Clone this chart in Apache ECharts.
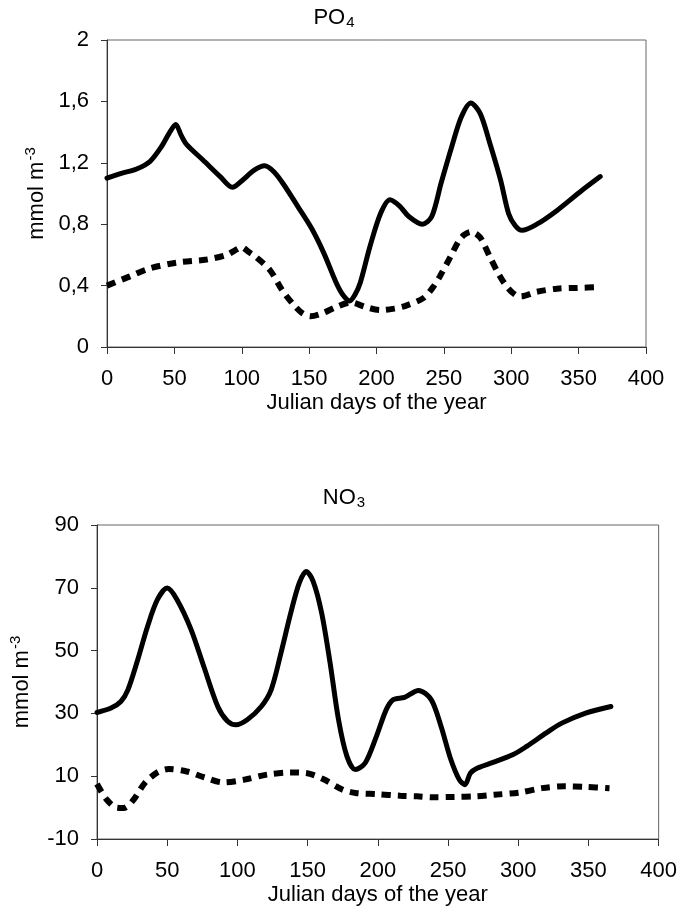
<!DOCTYPE html>
<html>
<head>
<meta charset="utf-8">
<script src="https://cdn.jsdelivr.net/npm/echarts@6/dist/echarts.min.js"></script>
<style>
html,body{margin:0;padding:0;background:#fff;}
#c{width:680px;height:914px;}
</style>
</head>
<body>
<div id="c"></div>
<script>
// ---- Data ----
const xTicks = [0, 50, 100, 150, 200, 250, 300, 350, 400];
const poTicks = [0, 0.4, 0.8, 1.2, 1.6, 2];
const noTicks = [-10, 10, 30, 50, 70, 90];

const poSolidDays = [0,10,22,32,40,46,51,55,59,71,84,93,101,109,117,124,131,142,152,161,170,175,180,184,188,195,203,210,217,224,234,241,248,256,263,270,277,284,292,298,303,308,319,334,351,366];
const poSolid     = [1.10,1.13,1.16,1.21,1.30,1.39,1.45,1.38,1.32,1.22,1.11,1.04,1.09,1.15,1.18,1.14,1.06,0.91,0.77,0.61,0.42,0.34,0.30,0.34,0.42,0.65,0.87,0.96,0.92,0.85,0.80,0.85,1.07,1.31,1.50,1.59,1.52,1.33,1.09,0.87,0.79,0.76,0.80,0.89,1.01,1.11];

const poDashDays = [0,17,31,52,74,89,95,100,105,110,121,130,138,145,151,160,170,181,192,203,213,222,235,242,247,255,261,265,270,275,278,284,291,297,303,307,319,334,349,366];
const poDash     = [0.40,0.46,0.51,0.55,0.57,0.60,0.63,0.65,0.62,0.59,0.50,0.37,0.28,0.22,0.20,0.22,0.26,0.29,0.26,0.24,0.25,0.27,0.32,0.39,0.46,0.59,0.69,0.73,0.75,0.73,0.70,0.59,0.47,0.39,0.34,0.33,0.36,0.38,0.385,0.39];

const noSolidDays = [0,10,17,22,29,36,43,50,57,67,76,86,93,99,107,117,124,131,138,144,149,154,160,166,172,178,184,191,199,206,211,219,229,238,245,252,258,262,266,271,282,296,306,320,331,348,366];
const noSolid     = [30.3,31.7,33.8,37.5,47.1,57.7,66.2,69.9,66.2,56.7,45.0,32.2,27.5,26.4,28.0,32.2,37.5,49.2,62.0,71.5,75.2,72.0,62.0,46.1,28.0,16.3,12.1,14.2,22.7,31.2,34.4,35.1,37.3,34.4,25.9,15.3,8.9,7.3,11.0,12.6,14.4,16.8,19.5,23.8,26.9,30.1,32.2];

const noDashDays = [0,7,14,19,26,34,43,51,64,76,90,105,121,138,149,161,175,185,199,216,228,239,254,270,283,301,317,333,348,365];
const noDash     = [7.5,2.5,0.0,-0.1,2.5,7.8,11.2,12.3,11.5,9.7,8.0,8.9,10.5,11.2,11.0,9.1,5.7,4.6,4.3,3.8,3.6,3.3,3.4,3.6,4.1,4.8,6.2,6.8,6.6,6.2];

const pair = (xs, ys) => xs.map((x, i) => [x, ys[i]]);

// ---- Chart ----
const FONT = "'Liberation Sans', Arial, sans-serif";
const chart = echarts.init(document.getElementById('c'), null, {renderer: 'canvas'});

const fmtComma = v => String(+(+v).toFixed(2)).replace('.', ',');

function xAxis(gridIndex) {
  return {
    type: 'value', gridIndex, min: xTicks[0], max: xTicks[xTicks.length - 1], interval: 50,
    name: 'Julian days of the year', nameLocation: 'middle', nameGap: 45,
    nameTextStyle: {fontFamily: FONT, fontSize: 22, color: '#000'},
    axisLine: {show: true, onZero: false, lineStyle: {color: '#333', width: 1}},
    axisTick: {show: true, inside: false, length: 7, lineStyle: {color: '#333'}},
    axisLabel: {fontFamily: FONT, fontSize: 22, color: '#000', margin: 21},
    splitLine: {show: false}
  };
}
function yAxis(gridIndex, ticks, gap) {
  return {
    type: 'value', gridIndex, min: ticks[0], max: ticks[ticks.length - 1],
    interval: ticks[1] - ticks[0],
    name: '{m|mmol m}{sup|-3}', nameLocation: 'middle', nameGap: gap,
    nameTextStyle: {fontFamily: FONT, fontSize: 22, color: '#000',
      rich: {
        m: {fontFamily: FONT, fontSize: 22, color: '#000'},
        sup: {fontFamily: FONT, fontSize: 15, color: '#000', padding: [0, 0, 12, 1]}
      }},
    axisLine: {show: true, onZero: false, lineStyle: {color: '#333', width: 1}},
    axisTick: {show: true, inside: false, length: 6, lineStyle: {color: '#333'}},
    axisLabel: {fontFamily: FONT, fontSize: 22, color: '#000', margin: 18, formatter: fmtComma},
    splitLine: {show: false}
  };
}

const solidStyle = {color: '#000', width: 5, type: 'solid', cap: 'round', join: 'round'};
const dashStyle = {color: '#000', width: 6, type: [9, 7], cap: 'butt'};

function series(xi, yi, data, style) {
  return {
    type: 'line', xAxisIndex: xi, yAxisIndex: yi, data, showSymbol: false, symbol: 'none',
    smooth: 0.3, lineStyle: style, silent: true, animation: false
  };
}

const titleRich = {
  m: {fontFamily: FONT, fontSize: 22, color: '#000'},
  sub: {fontFamily: FONT, fontSize: 15, color: '#000', padding: [9, 0, 0, 1]}
};

chart.setOption({
  animation: false,
  backgroundColor: '#fff',
  title: [
    {text: '{m|PO}{sub|4}', left: 334, top: 6, textAlign: 'center', padding: 0,
     textStyle: {fontFamily: FONT, fontSize: 22, fontWeight: 'normal', color: '#000', rich: titleRich}},
    {text: '{m|NO}{sub|3}', left: 344, top: 486, textAlign: 'center', padding: 0,
     textStyle: {fontFamily: FONT, fontSize: 22, fontWeight: 'normal', color: '#000', rich: titleRich}}
  ],
  grid: [
    {left: 107, top: 40, width: 539, height: 307, show: true, borderColor: '#666', borderWidth: 1, backgroundColor: 'transparent'},
    {left: 96, top: 525, width: 564, height: 314, show: true, borderColor: '#666', borderWidth: 1, backgroundColor: 'transparent'}
  ],
  xAxis: [xAxis(0), xAxis(1)],
  yAxis: [yAxis(0, poTicks, 53), yAxis(1, noTicks, 62)],
  series: [
    series(0, 0, pair(poSolidDays, poSolid), solidStyle),
    series(0, 0, pair(poDashDays, poDash), dashStyle),
    series(1, 1, pair(noSolidDays, noSolid), solidStyle),
    series(1, 1, pair(noDashDays, noDash), dashStyle)
  ]
});
</script>
</body>
</html>
